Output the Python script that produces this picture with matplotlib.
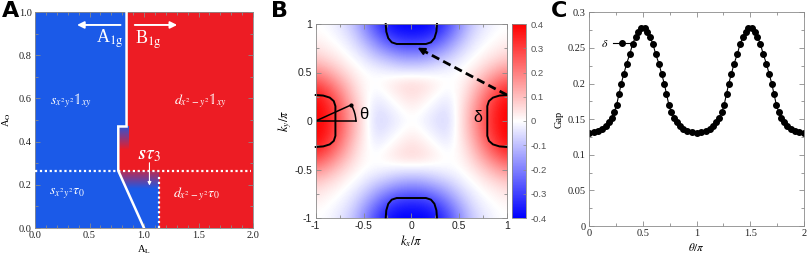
import numpy as np
import matplotlib
matplotlib.use("Agg")
import matplotlib.pyplot as plt
from matplotlib.colors import LinearSegmentedColormap
from matplotlib.patches import Polygon
from matplotlib.ticker import MultipleLocator

plt.rcParams['mathtext.fontset'] = 'stix'
plt.rcParams['axes.unicode_minus'] = False

# ---------------- Daten Panel A (Phasendiagramm) ----------------
blau = '#1b5ae8'
rot = '#ed1c24'
grenze_x = [0.84, 0.84, 0.764, 0.764, 1.0]        # weisse Linie A1g/B1g
grenze_y = [1.0, 0.47, 0.47, 0.265, 0.0]
rot_x = [0.84, 2.0, 2.0, 1.14, 1.14, 0.764, 0.764, 0.84]   # rote Phase
rot_y = [1.0, 1.0, 0.0, 0.0, 0.265, 0.265, 0.47, 0.47]
tau_h_x = [0.0, 1.98]        # gepunktete Linien
tau_h_y = [0.265, 0.265]
tau_v_x = [1.14, 1.14]
tau_v_y = [0.0, 0.245]

# ---------------- Daten Panel B (Gap auf der BZ) ----------------
# Quadrant kx,ky = 0 .. 1 (Schritt 0.125), Zeilen = ky, Spalten = kx
k_quad = [0.0, 0.125, 0.25, 0.375, 0.5, 0.625, 0.75, 0.875, 1.0]
gap_quad = [
    [0.00, -0.02, -0.05, -0.06, 0.03, 0.14, 0.26, 0.36, 0.40],
    [0.02, 0.00, -0.03, -0.05, 0.03, 0.13, 0.25, 0.35, 0.40],
    [0.05, 0.03, 0.00, -0.025, 0.02, 0.10, 0.21, 0.31, 0.37],
    [0.06, 0.05, 0.025, 0.00, 0.01, 0.07, 0.15, 0.23, 0.29],
    [-0.03, -0.03, -0.02, -0.01, 0.00, 0.03, 0.08, 0.14, 0.18],
    [-0.14, -0.13, -0.10, -0.07, -0.03, 0.00, 0.03, 0.06, 0.09],
    [-0.26, -0.25, -0.21, -0.15, -0.08, -0.03, 0.00, 0.02, 0.04],
    [-0.36, -0.35, -0.31, -0.23, -0.14, -0.06, -0.02, 0.00, 0.01],
    [-0.40, -0.40, -0.37, -0.29, -0.18, -0.09, -0.04, -0.01, 0.00],
]
# Fermi-Taschen: Profil entlang der Zonenkante (u) und Tiefe (d)
tasche_u = [-0.268, -0.262, -0.241, -0.205, -0.153, 0.153, 0.205, 0.241, 0.262, 0.268]
tasche_d = [0.0, 0.079, 0.147, 0.189, 0.206, 0.206, 0.189, 0.147, 0.079, 0.0]
bogen_x = [-0.631, -0.612, -0.598, -0.588, -0.582, -0.579]
bogen_y = [0.165, 0.135, 0.100, 0.065, 0.030, 0.0]
cbar_ticks = [0.4, 0.3, 0.2, 0.1, 0, -0.1, -0.2, -0.3, -0.4]
cbar_labels = ['0.4', '0.3', '0.2', '0.1', '0', '-0.1', '-0.2', '-0.3', '-0.4']

# ---------------- Daten Panel C (Gap vs theta) ----------------
theta_halb = [0.0, 0.045, 0.087, 0.124, 0.158, 0.186, 0.211, 0.235, 0.257, 0.28,
              0.30, 0.325, 0.35, 0.381, 0.406, 0.434, 0.459, 0.48]
gap_halb = [0.131, 0.1315, 0.133, 0.136, 0.140, 0.146, 0.152, 0.160, 0.170, 0.186,
            0.200, 0.214, 0.228, 0.242, 0.256, 0.2655, 0.2725, 0.278]


def main():
    fig = plt.figure(figsize=(8.09, 2.58), dpi=100)
    grau = '#8a8a8a'
    serif = 'Liberation Serif'
    sans = 'Liberation Sans'

    # ================= A =================
    axA = fig.add_axes([35/809, 30/258, 218/809, 216/258])
    axA.set_facecolor(blau)
    axA.add_patch(Polygon(np.column_stack([rot_x, rot_y]), closed=True,
                          facecolor=rot, edgecolor='none', zorder=1))
    br = LinearSegmentedColormap.from_list('br', [blau, rot])
    # verschwommene Uebergaenge
    axA.imshow(np.linspace(0.1, 1, 40).reshape(-1, 1), cmap=br, vmin=0, vmax=1,
               extent=[0.764, 0.86, 0.36, 0.47], origin='upper', aspect='auto',
               interpolation='bilinear', zorder=2)
    verl = axA.imshow(np.linspace(0.8, 0.0, 40).reshape(-1, 1), cmap=br, vmin=0, vmax=1,
                      extent=[0.764, 1.14, 0.18, 0.265], origin='upper', aspect='auto',
                      interpolation='bilinear', zorder=2)
    clip = Polygon([[0.764, 0.265], [1.14, 0.265], [1.14, 0.18], [0.84, 0.18]],
                   closed=True, transform=axA.transData)
    verl.set_clip_path(clip)

    axA.plot(grenze_x, grenze_y, color='white', lw=1.8, zorder=4, solid_joinstyle='miter')
    axA.plot(tau_h_x, tau_h_y, color='white', lw=1.6, ls=(0, (1, 1.2)), zorder=4)
    axA.plot(tau_v_x, tau_v_y, color='white', lw=1.6, ls=(0, (1, 1.2)), zorder=4)

    pfeil = dict(arrowstyle='<|-', color='white', lw=1.4, mutation_scale=10)
    axA.annotate('', xy=(0.81, 0.94), xytext=(0.36, 0.94), arrowprops=pfeil, zorder=5)
    axA.annotate('', xy=(0.89, 0.94), xytext=(1.33, 0.94), arrowprops=pfeil, zorder=5)
    axA.text(0.69, 0.875, r'A$_{\mathrm{1g}}$', color='white', fontsize=13,
             family=serif, ha='center', va='center', zorder=5)
    axA.text(1.04, 0.87, r'B$_{\mathrm{1g}}$', color='white', fontsize=13,
             family=serif, ha='center', va='center', zorder=5)
    axA.text(0.33, 0.59, r'$s_{x^2y^2}\mathbb{1}_{xy}$', color='white', fontsize=10,
             ha='center', va='center', zorder=5)
    axA.text(1.52, 0.59, r'$d_{x^2-y^2}\mathbb{1}_{xy}$', color='white', fontsize=10,
             ha='center', va='center', zorder=5)
    axA.text(0.29, 0.16, r'$s_{x^2y^2}\tau_0$', color='white', fontsize=10,
             ha='center', va='center', zorder=5)
    axA.text(1.48, 0.155, r'$d_{x^2-y^2}\tau_0$', color='white', fontsize=10,
             ha='center', va='center', zorder=5)
    axA.text(1.05, 0.34, r'$\boldsymbol{s\tau_3}$', color='white', fontsize=14,
             ha='center', va='center', zorder=5)
    axA.annotate('', xy=(1.05, 0.184), xytext=(1.05, 0.315),
                 arrowprops=dict(arrowstyle='-|>', color='white', lw=0.8,
                                 mutation_scale=5), zorder=5)

    axA.set_xlim(0, 2)
    axA.set_ylim(0, 1)
    axA.set_xticks([0, 0.5, 1.0, 1.5, 2.0])
    axA.set_xticklabels(['0.0', '0.5', '1.0', '1.5', '2.0'])
    axA.set_yticks([0, 0.2, 0.4, 0.6, 0.8, 1.0])
    axA.set_yticklabels(['0.0', '0.2', '0.4', '0.6', '0.8', '1.0'])
    axA.xaxis.set_minor_locator(MultipleLocator(0.1))
    axA.yaxis.set_minor_locator(MultipleLocator(0.1))
    axA.set_xlabel(r'A$_{\mathrm{L}}$', fontsize=7.5, family=serif, labelpad=2)
    axA.set_ylabel(r'A$_{\mathrm{O}}$', fontsize=7.5, family=serif, labelpad=4)

    # ================= B =================
    axB = fig.add_axes([315.7/809, 40/258, 191.3/809, 194/258])
    q = np.array(gap_quad)
    halb = np.vstack([q[:0:-1], q])
    gitter = np.hstack([halb[:, :0:-1], halb])
    dk = k_quad[1] - k_quad[0]
    im = axB.imshow(gitter, cmap='bwr', vmin=-0.4, vmax=0.4, origin='lower',
                    extent=[-1 - dk/2, 1 + dk/2, -1 - dk/2, 1 + dk/2],
                    interpolation='bicubic', aspect='auto')
    u = np.array(tasche_u)
    d = np.array(tasche_d)
    for px, py in [(u, 1 - d), (u, -1 + d), (-1 + d, u), (1 - d, u)]:
        axB.plot(px, py, color='black', lw=1.4, clip_on=False)
    axB.plot([-1, -0.579], [0, 0], color='black', lw=1.1)
    axB.plot([-1, -0.631], [0, 0.165], color='black', lw=1.1)
    axB.plot(bogen_x, bogen_y, color='black', lw=1.1)
    axB.plot([-0.631], [0.165], 'o', color='black', ms=2)
    axB.text(-0.50, 0.07, 'θ', fontsize=12, family=sans, ha='center', va='center')
    axB.text(0.69, 0.04, 'δ', fontsize=11.5, family=sans, ha='center', va='center')
    axB.plot([1.0, 0.085], [0.268, 0.745], color='black', lw=2.0,
             dashes=(3.0, 1.6), clip_on=False)
    axB.annotate('', xy=(0.04, 0.768), xytext=(0.12, 0.727),
                 arrowprops=dict(arrowstyle='-|>', color='black', lw=1.5,
                                 mutation_scale=10))
    axB.set_xlim(-1, 1)
    axB.set_ylim(-1, 1)
    axB.set_xticks([-1, -0.5, 0, 0.5, 1])
    axB.set_xticklabels(['-1', '-0.5', '0', '0.5', '1'])
    axB.set_yticks([-1, -0.5, 0, 0.5, 1])
    axB.set_yticklabels(['-1', '-0.5', '0', '0.5', '1'])
    axB.xaxis.set_minor_locator(MultipleLocator(0.25))
    axB.yaxis.set_minor_locator(MultipleLocator(0.25))
    axB.set_xlabel(r'$k_x/\pi$', fontsize=9, labelpad=1)
    axB.set_ylabel(r'$k_y/\pi$', fontsize=9, labelpad=0)

    cax = fig.add_axes([512/809, 40/258, 14/809, 194/258])
    cb = fig.colorbar(im, cax=cax, ticks=cbar_ticks)
    cb.ax.set_yticklabels(cbar_labels)
    cb.ax.tick_params(labelsize=6.8, labelcolor='#555555', colors=grau,
                      direction='in', length=2.5, width=0.5, pad=3)
    for lab in cb.ax.get_yticklabels():
        lab.set_family(sans)
    cb.outline.set_edgecolor(grau)
    cb.outline.set_linewidth(0.6)

    # ================= C =================
    axC = fig.add_axes([589/809, 32/258, 215/809, 213.7/258])
    th1 = np.array(theta_halb)
    g1 = np.array(gap_halb)
    th_per = np.concatenate([th1, 1 - th1[::-1]])
    g_per = np.concatenate([g1, g1[::-1]])
    theta = np.concatenate([th_per, th_per[1:] + 1])
    gap = np.concatenate([g_per, g_per[1:]])
    axC.plot(theta, gap, '-o', color='black', lw=0.8, ms=4, label=r'$\delta$')
    axC.legend(loc='center left', bbox_to_anchor=(0.03, 0.855), frameon=False,
               markerfirst=False, handlelength=1.4, handletextpad=0.4,
               fontsize=8.5, borderpad=0)
    axC.set_xlim(0, 2)
    axC.set_ylim(0, 0.3)
    axC.set_xticks([0, 0.5, 1, 1.5, 2])
    axC.set_xticklabels(['0', '0.5', '1', '1.5', '2'])
    axC.set_yticks([0, 0.05, 0.1, 0.15, 0.2, 0.25, 0.3])
    axC.set_yticklabels(['0', '0.05', '0.1', '0.15', '0.2', '0.25', '0.3'])
    axC.xaxis.set_minor_locator(MultipleLocator(0.25))
    axC.yaxis.set_minor_locator(MultipleLocator(0.025))
    axC.set_xlabel(r'$\theta/\pi$', fontsize=8, labelpad=2)
    axC.set_ylabel('Gap', fontsize=7.5, family=serif, labelpad=3)

    # gemeinsame Achsen-Optik
    for ax, fam in [(axA, serif), (axB, sans), (axC, serif)]:
        ax.tick_params(which='both', direction='in', top=True, right=True,
                       colors=grau, labelcolor='#222222', width=0.6)
        ax.tick_params(which='major', length=3.5, labelsize=7.5, pad=2.5)
        ax.tick_params(which='minor', length=2)
        for sp in ax.spines.values():
            sp.set_color(grau)
            sp.set_linewidth(0.6)
        for lab in ax.get_xticklabels() + ax.get_yticklabels():
            lab.set_family(fam)

    for x, t in [(2/809, 'A'), (271/809, 'B'), (551/809, 'C')]:
        fig.text(x, 1 - 1/258, t, fontsize=16, fontweight='bold', family='DejaVu Sans',
                 ha='left', va='top')

    fig.savefig('out.png', dpi=100)


if __name__ == "__main__":
    main()
